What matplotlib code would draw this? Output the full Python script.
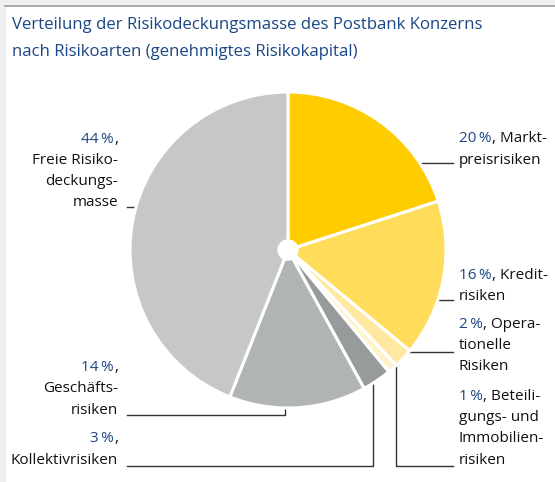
import matplotlib
matplotlib.use("Agg")
import matplotlib.pyplot as plt
from matplotlib.patches import Rectangle, Circle
from matplotlib.lines import Line2D

categories = ["Marktpreisrisiken", "Kreditrisiken", "Operationelle Risiken",
              "Beteiligungs- und Immobilienrisiken", "Kollektivrisiken",
              "Geschäftsrisiken", "Freie Risikodeckungsmasse"]
values = [20, 16, 2, 1, 3, 14, 44]
colors = ["#FFCC00", "#FFDC5A", "#FFE9A0", "#FFF3CC", "#979B9C", "#B1B4B4", "#C5C7C8"]
pct_labels = ["20\u2009%", "16\u2009%", "2\u2009%", "1\u2009%", "3\u2009%", "14\u2009%", "44\u2009%"]
text_labels = [", Markt-\npreisrisiken", ", Kredit-\nrisiken", ", Opera-\ntionelle\nRisiken",
               ", Beteili-\ngungs- und\nImmobilien-\nrisiken", ",\nKollektivrisiken",
               ",\nGeschäfts-\nrisiken", ",\nFreie Risiko-\ndeckungs-\nmasse"]

W, H = 555, 482
fig = plt.figure(figsize=(W / 100, H / 100), dpi=100)
fig.patch.set_facecolor("white")
FONT = ["Open Sans", "DejaVu Sans"]
BLUE = "#1B4785"
BLACK = "#111111"

# background frame
bg = fig.add_axes([0, 0, 1, 1])
bg.set_xlim(0, W)
bg.set_ylim(H, 0)
bg.axis("off")
bg.add_patch(Rectangle((0, 0), W, 5, color="#EDEFF1", zorder=0))
bg.add_patch(Rectangle((0, 0), 5, H, color="#EDEFF1", zorder=0))
bg.add_line(Line2D([5, W], [5.5, 5.5], color="#9A9C9E", lw=1.2))

bg.text(12, 25, "Verteilung der Risikodeckungsmasse des Postbank Konzerns",
        color=BLUE, fontsize=12.1, family=FONT, va="center", ha="left")
bg.text(12, 52, "nach Risikoarten (genehmigtes Risikokapital)",
        color=BLUE, fontsize=12.1, family=FONT, va="center", ha="left")

# pie axes: centre (288, 250), radius 158 px
cx, cy, r = 288, 250, 158
pax = fig.add_axes([(cx - r) / W, 1 - (cy + r) / H, 2 * r / W, 2 * r / H])
pax.pie(values, colors=colors, startangle=90, counterclock=False,
        wedgeprops=dict(edgecolor="white", linewidth=2.2))
pax.add_patch(Circle((0, 0), 10 / r, color="white", zorder=5))
pax.set_xlim(-1, 1)
pax.set_ylim(-1, 1)
pax.set_aspect("equal")

# leader lines (pixel coords)
lc = "#333333"
leaders = [
    [(398, 163), (453, 163)],
    [(413, 300), (453, 300)],
    [(400, 352), (453, 352)],
    [(396, 367), (396, 466), (453, 466)],
    [(373, 372), (373, 466), (127, 466)],
    [(285, 387), (285, 415), (127, 415)],
    [(158, 207), (127, 207)],
]
for pts in leaders:
    xs, ys = zip(*pts)
    bg.add_line(Line2D(xs, ys, color=lc, lw=1.0, zorder=10))

fs = 11.0
lh = 21.3


def label(x, y_last, pct, txt, ha):
    lines = txt.split("\n")
    n = len(lines)
    y0 = y_last - (n - 1) * lh
    for i, ln in enumerate(lines):
        y = y0 + i * lh
        if i == 0:
            if ha == "left":
                t = bg.text(x, y, pct, color=BLUE, fontsize=fs, family=FONT, va="center", ha="left")
                fig.canvas.draw()
                bb = t.get_window_extent()
                bg.annotate(ln, xy=(bb.x1, H - y), xycoords="figure pixels", va="center", ha="left",
                            fontsize=fs, family=FONT, color=BLACK)
            else:
                t = bg.text(x, y, ln, color=BLACK, fontsize=fs, family=FONT, va="center", ha="right")
                fig.canvas.draw()
                bb = t.get_window_extent()
                bg.annotate(pct, xy=(bb.x0, H - y), xycoords="figure pixels", va="center", ha="right",
                            fontsize=fs, family=FONT, color=BLUE)
        else:
            bg.text(x, y, ln, color=BLACK, fontsize=fs, family=FONT, va="center", ha=ha)


label(459, 160, pct_labels[0], text_labels[0], "left")
label(459, 297, pct_labels[1], text_labels[1], "left")
label(459, 367, pct_labels[2], text_labels[2], "left")
label(459, 460, pct_labels[3], text_labels[3], "left")
label(118, 460, pct_labels[4], text_labels[4], "right")
label(118, 410, pct_labels[5], text_labels[5], "right")
label(118, 203, pct_labels[6], text_labels[6], "right")

fig.savefig("out.png", dpi=100, facecolor="white")
